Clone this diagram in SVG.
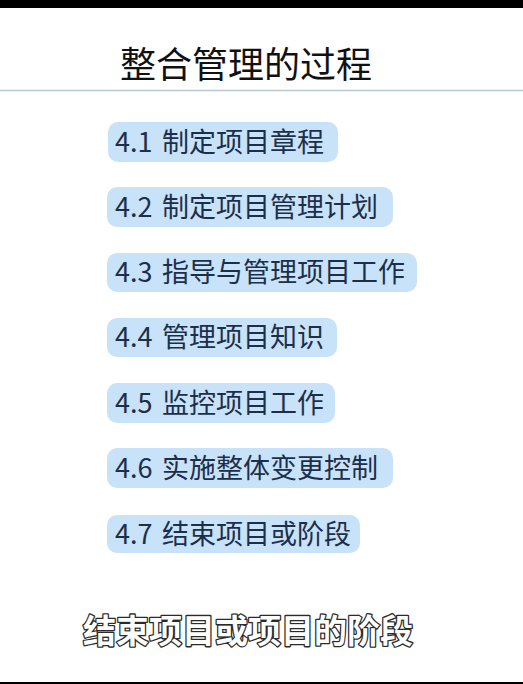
<svg xmlns="http://www.w3.org/2000/svg" width="523" height="684" viewBox="0 0 523 684">
<style>
.bar{fill:#000}
.box{fill:#c8e2f9}
.lbl{font-family:"Noto Sans CJK SC","Noto Sans",sans-serif;font-size:27px;fill:#1c2f4a}
.title{font-family:"Noto Sans CJK SC","Noto Sans",sans-serif;font-size:36px;fill:#111}
.sub{font-family:"Noto Sans CJK SC",sans-serif;font-size:33px;font-weight:bold;fill:#fff;stroke:#2a2a2a;stroke-width:2.6px;paint-order:stroke;stroke-linejoin:round}
</style>
<rect x="0" y="0" width="523" height="684" fill="#fff"/>
<rect class="bar" x="0" y="0" width="523" height="8"/>
<rect class="bar" x="0" y="682" width="523" height="2"/>
<g id="title">
<text class="title" x="120" y="78">整合管理的过程</text>
<line x1="0" y1="90.5" x2="523" y2="90.5" stroke="#b7c7d5" stroke-width="1.5"/>
</g>
<g id="n41"><rect class="box" x="108" y="122" width="230" height="40" rx="10"/><text class="lbl" x="115" y="152">4.1<tspan x="162">制定项目章程</tspan></text></g>
<g id="n42"><rect class="box" x="107" y="187" width="286" height="40" rx="10"/><text class="lbl" x="115" y="217">4.2<tspan x="162">制定项目管理计划</tspan></text></g>
<g id="n43"><rect class="box" x="107" y="253" width="310" height="39" rx="10"/><text class="lbl" x="115" y="282">4.3<tspan x="162">指导与管理项目工作</tspan></text></g>
<g id="n44"><rect class="box" x="107" y="318" width="230" height="39" rx="10"/><text class="lbl" x="115" y="347">4.4<tspan x="162">管理项目知识</tspan></text></g>
<g id="n45"><rect class="box" x="107" y="383" width="228" height="40" rx="10"/><text class="lbl" x="115" y="413">4.5<tspan x="162">监控项目工作</tspan></text></g>
<g id="n46"><rect class="box" x="107" y="448" width="286" height="40" rx="10"/><text class="lbl" x="115" y="478">4.6<tspan x="162">实施整体变更控制</tspan></text></g>
<g id="n47"><rect class="box" x="107" y="515" width="253" height="38" rx="10"/><text class="lbl" x="115" y="544">4.7<tspan x="162">结束项目或阶段</tspan></text></g>
<g id="connectors"></g>
<text class="sub" x="83" y="643">结束项目或项目的阶段</text>
</svg>
